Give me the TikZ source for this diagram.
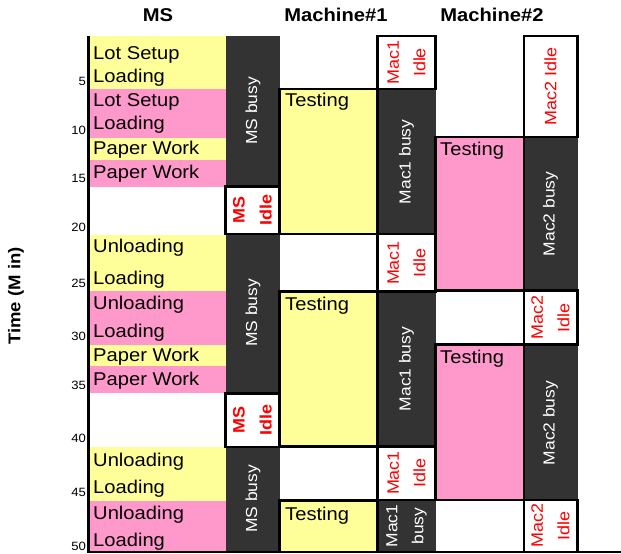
\documentclass[tikz,border=0pt]{standalone}
\usepackage{fontspec}
\setmainfont[FakeStretch=1.09]{Liberation Sans}
\definecolor{lyel}{HTML}{FFFF99}
\definecolor{lpnk}{HTML}{FF99CC}
\definecolor{dgray}{HTML}{333333}
\definecolor{idlered}{HTML}{FF0000}
\tikzset{
  yelcell/.style={fill=lyel},
  pnkcell/.style={fill=lpnk},
  busyfill/.style={fill=dgray},
  framed/.style={draw=black, line width=2.6pt},
  idlebox/.style={framed, fill=white},
  testbox/.style={framed, fill=lyel},
  testboxp/.style={framed, fill=lpnk},
  celltxt/.style={anchor=base west, inner sep=0pt, font=\fontsize{18.5}{22}\selectfont},
  headtxt/.style={anchor=base, inner sep=0pt, font=\fontsize{18.5}{22}\selectfont\bfseries},
  ticktxt/.style={anchor=base east, inner sep=0pt, font=\fontsize{12}{14}\selectfont},
  busytxt/.style={rotate=90, inner sep=0pt, align=center, text=white, font=\fontsize{16}{26}\selectfont},
  idletxt/.style={rotate=90, inner sep=0pt, align=center, text=idlered, font=\fontsize{16.5}{26.5}\selectfont},
  msidletxt/.style={rotate=90, inner sep=0pt, align=center, text=idlered, font=\fontsize{16.5}{27}\selectfont\bfseries},
}
\begin{document}
\begin{tikzpicture}[x=1pt,y=-1pt]
\useasboundingbox (0,0) rectangle (621,554);
% busy columns
\fill[busyfill] (226,36) rectangle (280,551);
\fill[busyfill] (377.5,36) rectangle (435.5,551);
\fill[busyfill] (524,137) rectangle (577.5,551);
% MS task cells
\fill[yelcell] (89,36) rectangle (226,89);
\fill[pnkcell] (89,89) rectangle (226,138);
\fill[yelcell] (89,138) rectangle (226,160);
\fill[pnkcell] (89,160) rectangle (226,187);
\fill[yelcell] (89,235) rectangle (226,291);
\fill[pnkcell] (89,291) rectangle (226,345);
\fill[yelcell] (89,345) rectangle (226,366);
\fill[pnkcell] (89,366) rectangle (226,393);
\fill[yelcell] (89,447) rectangle (226,501);
\fill[pnkcell] (89,501) rectangle (226,551);
% MS idle boxes
\draw[idlebox] (225.5,186.5) rectangle (279.5,234);
\draw[idlebox] (225.5,393.5) rectangle (279.5,447);
% Machine 1 testing
\draw[testbox] (279.5,89) rectangle (377.5,234);
\draw[testbox] (279.5,291.5) rectangle (377.5,446.5);
\draw[testbox] (279.5,500.5) rectangle (377.5,552);
% Mac1 idle
\draw[idlebox] (377.5,36) rectangle (435.5,89);
\draw[idlebox] (377.5,234) rectangle (435.5,291.5);
\draw[idlebox] (377.5,446.5) rectangle (435.5,500);
% Machine 2 testing
\draw[testboxp] (435.5,137) rectangle (524,290.5);
\draw[testboxp] (435.5,344.5) rectangle (524,500);
% Mac2 idle
\draw[idlebox] (524,36) rectangle (577.5,137);
\draw[idlebox] (524,290.5) rectangle (577.5,344.5);
\draw[idlebox] (524,500) rectangle (577.5,552);
% axes
\draw[line width=3pt] (88.5,36) -- (88.5,552.5);
\draw[line width=2pt] (87,551.5) -- (621,551.5);
% headers
\node[headtxt] (hMS) at (158,21.5) {MS};
\node[headtxt] (hM1) at (336,21.5) {Machine\#1};
\node[headtxt] (hM2) at (492,21.5) {Machine\#2};
% y label
\node[rotate=90, inner sep=0pt, font=\fontsize{17}{19}\selectfont\bfseries] (ylab) at (16,296) {Time (M in)};
% ticks
\node[ticktxt] (t5) at (86,85.5) {5};
\node[ticktxt] (t10) at (86,134.5) {10};
\node[ticktxt] (t15) at (86,182) {15};
\node[ticktxt] (t20) at (86,231) {20};
\node[ticktxt] (t25) at (86,287) {25};
\node[ticktxt] (t30) at (86,340) {30};
\node[ticktxt] (t35) at (86,389.5) {35};
\node[ticktxt] (t40) at (86,442.5) {40};
\node[ticktxt] (t45) at (86,496.5) {45};
\node[ticktxt] (t50) at (86,550) {50};
% MS task texts
\node[celltxt] (c1a) at (93,59) {Lot Setup};
\node[celltxt] (c1b) at (93,82) {Loading};
\node[celltxt] (c2a) at (93,106) {Lot Setup};
\node[celltxt] (c2b) at (93,129) {Loading};
\node[celltxt] (c3) at (93,154) {Paper Work};
\node[celltxt] (c4) at (93,178) {Paper Work};
\node[celltxt] (c5a) at (93,252) {Unloading};
\node[celltxt] (c5b) at (93,284) {Loading};
\node[celltxt] (c6a) at (93,309) {Unloading};
\node[celltxt] (c6b) at (93,337) {Loading};
\node[celltxt] (c7) at (93,361) {Paper Work};
\node[celltxt] (c8) at (93,385) {Paper Work};
\node[celltxt] (c9a) at (93,466) {Unloading};
\node[celltxt] (c9b) at (93,493) {Loading};
\node[celltxt] (c10a) at (93,519) {Unloading};
\node[celltxt] (c10b) at (93,546) {Loading};
% testing texts
\node[celltxt] (ts1) at (285,106) {Testing};
\node[celltxt] (ts2) at (440,155) {Testing};
\node[celltxt] (ts3) at (285,310) {Testing};
\node[celltxt] (ts4) at (440,363) {Testing};
\node[celltxt] (ts5) at (285,520) {Testing};
% busy labels
\node[busytxt] (msb1) at (253,111) {MS busy};
\node[busytxt] (msb2) at (253,313) {MS busy};
\node[busytxt] (msb3) at (253,499) {MS busy};
\node[busytxt] (m1b1) at (406.5,162) {Mac1 busy};
\node[busytxt] (m1b2) at (406.5,369) {Mac1 busy};
\node[busytxt] (m1b3) at (406.5,526) {Mac1\\busy};
\node[busytxt] (m2b1) at (550.5,214) {Mac2 busy};
\node[busytxt] (m2b2) at (550.5,423) {Mac2 busy};
% idle labels
\node[msidletxt] (msi1) at (252.5,210) {MS\\Idle};
\node[msidletxt] (msi2) at (252.5,420) {MS\\Idle};
\node[idletxt] (m1i1) at (406.5,62.5) {Mac1\\Idle};
\node[idletxt] (m1i2) at (406.5,263) {Mac1\\Idle};
\node[idletxt] (m1i3) at (406.5,473) {Mac1\\Idle};
\node[idletxt] (m2i1) at (550.5,86.5) {Mac2 Idle};
\node[idletxt] (m2i2) at (550.5,317.5) {Mac2\\Idle};
\node[idletxt] (m2i3) at (550.5,525.5) {Mac2\\Idle};
\end{tikzpicture}
\end{document}
